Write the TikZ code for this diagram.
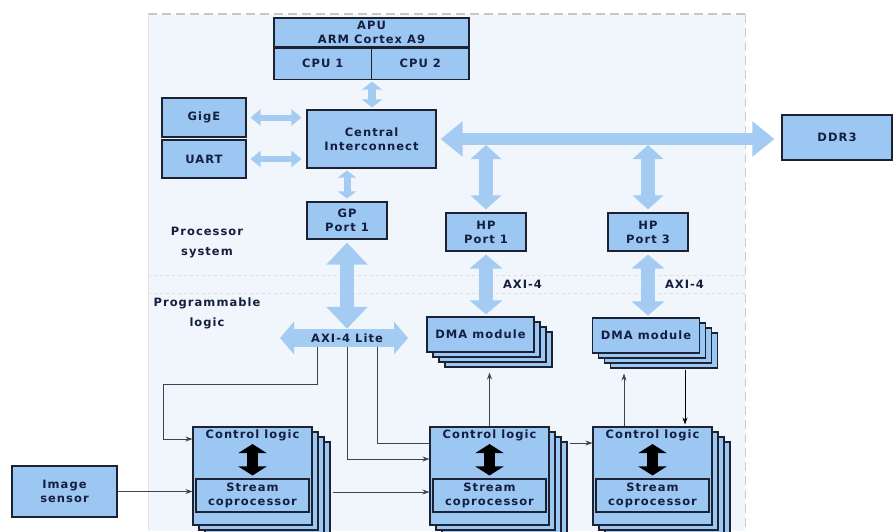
\documentclass[tikz,border=0pt]{standalone}
\usepackage{fontspec}
\newfontfamily\diafont[LetterSpace=9]{DejaVu Sans}
\usepackage{tikz}
\usetikzlibrary{positioning, arrows.meta, shadows}
\definecolor{BoxBlue}{RGB}{156,199,242}
\definecolor{ArrowBlue}{RGB}{164,204,243}
\definecolor{PaleBack}{RGB}{241,246,252}
\definecolor{LineDark}{RGB}{28,34,50}
\definecolor{TextNavy}{RGB}{20,30,62}
\tikzset{
  txt/.style={align=center, text=TextNavy, inner sep=2pt,
    font=\diafont\bfseries\fontsize{11.5}{14}\selectfont},
  blk/.style={txt, draw=LineDark, fill=BoxBlue, line width=1.1pt},
  stack/.style={
    copy shadow={shadow xshift=18pt, shadow yshift=-15pt, fill=BoxBlue, draw=LineDark, line width=1.1pt},
    copy shadow={shadow xshift=12pt, shadow yshift=-10pt, fill=BoxBlue, draw=LineDark, line width=1.1pt},
    copy shadow={shadow xshift=6pt, shadow yshift=-5pt, fill=BoxBlue, draw=LineDark, line width=1.1pt}},
  fatarrow/.style n args={3}{ArrowBlue, line width=#1,
    {Triangle[length=#2,width=#3]}-{Triangle[length=#2,width=#3]}},
  sig/.style={draw=LineDark!85, line width=0.8pt, -{Stealth[length=7pt,width=5pt]}},
}

\begin{document}
\begin{tikzpicture}[x=1pt, y=-1pt]
\useasboundingbox (0,0) rectangle (896,531);

% areas
\fill[PaleBack] (148,14) rectangle (745,531);
\draw[gray!45, line width=1.4pt, dash pattern=on 9pt off 5pt] (148,14) -- (745,14);
\draw[gray!40, dash pattern=on 9pt off 5pt] (745,14) -- (745,531);
\draw[gray!20] (148,14) -- (148,531);
\draw[gray!25, dashed] (148,275) -- (745,275);
\draw[gray!25, dashed] (148,293) -- (745,293);
\node[txt] (ps) at (207,243) {Processor\\[6pt]system};
\node[txt] (pl) at (207,313) {Programmable\\[6pt]logic};

% processor system
\node[blk, minimum width=195pt, minimum height=29pt] (apu) at (371.5,32.5) {APU\\ARM Cortex A9};
\node[blk, minimum width=97.5pt, minimum height=31pt, anchor=north west] (cpu1) at (apu.south west) {CPU 1};
\node[blk, minimum width=97.5pt, minimum height=31pt, anchor=north east] (cpu2) at (apu.south east) {CPU 2};
\node[blk, minimum width=129pt, minimum height=58pt] (ci) at (371.5,139) {Central\\Interconnect};
\node[blk, minimum width=84pt, minimum height=39pt] (gige) at (204,117.5) {GigE};
\node[blk, minimum width=84pt, minimum height=38pt] (uart) at (204,159) {UART};
\node[blk, minimum width=80pt, minimum height=37pt] (gp) at (347,220.5) {GP\\Port 1};
\node[blk, minimum width=80pt, minimum height=38pt] (hp1) at (486,232) {HP\\Port 1};
\node[blk, minimum width=80pt, minimum height=38pt] (hp3) at (648,232) {HP\\Port 3};
\node[blk, minimum width=110pt, minimum height=45pt] (ddr) at (837,137.5) {DDR3};

\draw[fatarrow={8pt}{8pt}{20pt}, shorten <=2pt, shorten >=2pt] (cpu1.south east) -- (cpu1.south east |- ci.north);
\draw[fatarrow={6pt}{10pt}{16pt}, shorten <=4pt, shorten >=5pt] (gige.east) -- (gige.east -| ci.west);
\draw[fatarrow={6pt}{10pt}{16pt}, shorten <=4pt, shorten >=5pt] (uart.east) -- (uart.east -| ci.west);
\draw[fatarrow={7pt}{7pt}{18pt}, shorten <=2pt, shorten >=3pt] (ci.south -| gp.north) -- (gp.north);
\draw[fatarrow={12pt}{22pt}{34pt}, shorten <=4pt, shorten >=7pt] (ci.east) -- (ci.east -| ddr.west);
\draw[fatarrow={14pt}{14pt}{30pt}, shorten <=6pt, shorten >=3pt] (hp1.north |- ci.east) -- (hp1.north);
\draw[fatarrow={14pt}{14pt}{30pt}, shorten <=6pt, shorten >=3pt] (hp3.north |- ci.east) -- (hp3.north);

% programmable logic
\draw[fatarrow={18pt}{14pt}{32pt}] (280,338) -- (408,338);
\node[txt, minimum height=18pt] (axi) at (347,338) {AXI-4 Lite};
\draw[fatarrow={14pt}{22pt}{40pt}, shorten <=3pt] (gp.south) -- (axi.north);

\node[blk, stack, minimum width=107pt, minimum height=35pt] (dma1) at (480.5,334.5) {DMA module};
\node[blk, stack, minimum width=107pt, minimum height=35pt] (dma2) at (646,335.5) {DMA module};
\draw[fatarrow={14pt}{14pt}{32pt}, shorten <=3pt, shorten >=2pt] (hp1.south) -- node[txt, right=8pt] {AXI-4} (hp1.south |- dma1.north);
\draw[fatarrow={14pt}{14pt}{32pt}, shorten <=3pt, shorten >=2pt] (hp3.south) -- node[txt, right=8pt] {AXI-4} (hp3.south |- dma2.north);

\foreach \n/\x in {1/252.5, 2/489.5, 3/652.5} {
  \node[blk, stack, minimum width=119pt, minimum height=98pt] (cl\n) at (\x,476) {};
  \node[txt, anchor=north] (ct\n) at ([yshift=-1pt]cl\n.north) {Control logic};
  \node[blk, minimum width=113pt, minimum height=33pt, anchor=south] (sc\n) at ([yshift=13pt]cl\n.south) {Stream\\coprocessor};
  \draw[fatarrow={11pt}{9pt}{28pt}, black, shorten <=1pt, shorten >=3pt] (ct\n.south) -- (sc\n.north);
}

\node[blk, minimum width=105pt, minimum height=51pt] (sensor) at (64.5,491.5) {Image\\sensor};

% signals
\draw[sig] ([xshift=-30pt]axi.south) |- ++(-154,37) |- ([yshift=37pt]cl1.west);
\draw[sig] (axi.south) |- ([yshift=17pt]cl2.west);
\draw[sig, -] ([xshift=30pt]axi.south) |- ([yshift=33pt]cl2.west);
\draw[sig] (sensor.east) -- (sensor.east -| cl1.west);
\draw[sig] ([xshift=20pt, yshift=-16pt]cl1.east) -- ([yshift=-16pt]cl2.west);
\draw[sig] ([xshift=20pt, yshift=33pt]cl2.east) -- ([yshift=33pt]cl3.west);
\draw[sig, shorten >=20pt] (cl2.north) -- (cl2.north |- dma1.south);
\draw[sig, shorten >=20pt] ([xshift=-28.5pt]cl3.north) -- ([xshift=-28.5pt]cl3.north |- dma2.south);
\draw[sig, draw=black, shorten <=16pt, shorten >=2pt] ([xshift=32.5pt]cl3.north |- dma2.south) -- ([xshift=32.5pt]cl3.north);
\end{tikzpicture}
\end{document}
